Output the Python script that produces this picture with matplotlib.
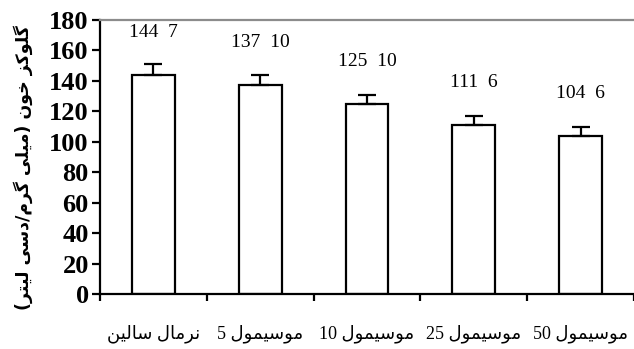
import matplotlib
matplotlib.use("Agg")
import matplotlib.pyplot as plt
import numpy as np

# ---- data ----
categories = ["نرمال سالین", "موسیمول 5", "موسیمول 10", "موسیمول 25", "موسیمول 50"]
means = [144, 137, 125, 111, 104]
errors = [7, 7, 6, 6, 5.5]
value_labels = ["144  7", "137  10", "125  10", "111  6", "104  6"]
y_ticks = [0, 20, 40, 60, 80, 100, 120, 140, 160, 180]
y_label = "گلوکز خون (میلی گرم/دسی لیتر)"

# ---- minimal Arabic/Persian shaping (matplotlib has no complex text layout) ----
FORMS = {  # isolated, final, initial, medial
    "\u0627": ("\uFE8D", "\uFE8E", None, None),
    "\u062A": ("\uFE95", "\uFE96", "\uFE97", "\uFE98"),
    "\u062E": ("\uFEA5", "\uFEA6", "\uFEA7", "\uFEA8"),
    "\u062F": ("\uFEA9", "\uFEAA", None, None),
    "\u0631": ("\uFEAD", "\uFEAE", None, None),
    "\u0632": ("\uFEAF", "\uFEB0", None, None),
    "\u0633": ("\uFEB1", "\uFEB2", "\uFEB3", "\uFEB4"),
    "\u0644": ("\uFEDD", "\uFEDE", "\uFEDF", "\uFEE0"),
    "\u0645": ("\uFEE1", "\uFEE2", "\uFEE3", "\uFEE4"),
    "\u0646": ("\uFEE5", "\uFEE6", "\uFEE7", "\uFEE8"),
    "\u0648": ("\uFEED", "\uFEEE", None, None),
    "\u06A9": ("\uFB8E", "\uFB8F", "\uFB90", "\uFB91"),
    "\u06AF": ("\uFB92", "\uFB93", "\uFB94", "\uFB95"),
    "\u06CC": ("\uFBFC", "\uFBFD", "\uFBFE", "\uFBFF"),
}
MIRROR = {"(": ")", ")": "("}


def shape(s):
    out = []
    n = len(s)
    for i, ch in enumerate(s):
        if ch not in FORMS:
            out.append(ch)
            continue
        f = FORMS[ch]
        prev = s[i - 1] if i > 0 else None
        nxt = s[i + 1] if i < n - 1 else None
        join_prev = prev in FORMS and FORMS[prev][2] is not None
        join_next = nxt in FORMS and f[2] is not None
        if join_prev and join_next:
            out.append(f[3])
        elif join_prev:
            out.append(f[1])
        elif join_next:
            out.append(f[2])
        else:
            out.append(f[0])
    return out


def rtl(s):
    # visual order: reverse runs, keep digit runs left-to-right
    chars = shape(s)
    runs, cur, cur_digit = [], [], None
    for c in chars:
        d = c.isdigit()
        if cur and d != cur_digit:
            runs.append((cur_digit, cur))
            cur = []
        cur.append(c)
        cur_digit = d
    if cur:
        runs.append((cur_digit, cur))
    vis = []
    for is_digit, r in reversed(runs):
        if is_digit:
            vis.extend(r)
        else:
            vis.extend(MIRROR.get(c, c) for c in reversed(r))
    return "".join(vis)


FAM = ["Liberation Serif", "DejaVu Sans"]

fig = plt.figure(figsize=(6.34, 3.49), dpi=100)
ax = fig.add_axes([0.1577, 0.1576, 0.8423, 0.7851])

x = np.arange(len(categories))
ax.bar(x, means, width=0.40, color="white", edgecolor="black", linewidth=1.6, zorder=2)
ax.errorbar(x, means, yerr=[np.zeros(len(errors)), errors], fmt="none",
            ecolor="black", elinewidth=1.6, capsize=6.5, capthick=1.6, zorder=3)

for xi, m, lab in zip(x, means, value_labels):
    ax.text(xi, m + 28, lab, ha="center", va="center", fontsize=14,
            family="Liberation Serif", color="black")

ax.set_xlim(-0.5, 4.5)
ax.set_ylim(0, 180)
ax.set_yticks(y_ticks)
ax.set_yticklabels([str(v) for v in y_ticks], fontsize=19, fontweight="bold",
                   family="Liberation Serif")
ax.tick_params(axis="y", direction="out", length=6, width=1.6, pad=2)

ax.set_xticks(np.arange(-0.5, 5.0, 1.0))
ax.set_xticklabels([])
ax.tick_params(axis="x", which="major", direction="out", length=5, width=1.6)
ax.set_xticks(x, minor=True)
ax.set_xticklabels([rtl(c) for c in categories], minor=True, fontsize=13, family=FAM)
ax.tick_params(axis="x", which="minor", length=0, pad=22)

for side in ["left", "bottom"]:
    ax.spines[side].set_linewidth(1.6)
    ax.spines[side].set_color("black")
ax.spines["top"].set_color("#8c8c8c")
ax.spines["top"].set_linewidth(1.6)
ax.spines["right"].set_visible(False)

fig.text(0.036, 0.52, rtl(y_label), rotation=90, ha="center", va="center",
         fontsize=12.5, fontweight="bold", family=["DejaVu Sans"])

fig.savefig("out.png", dpi=100)
